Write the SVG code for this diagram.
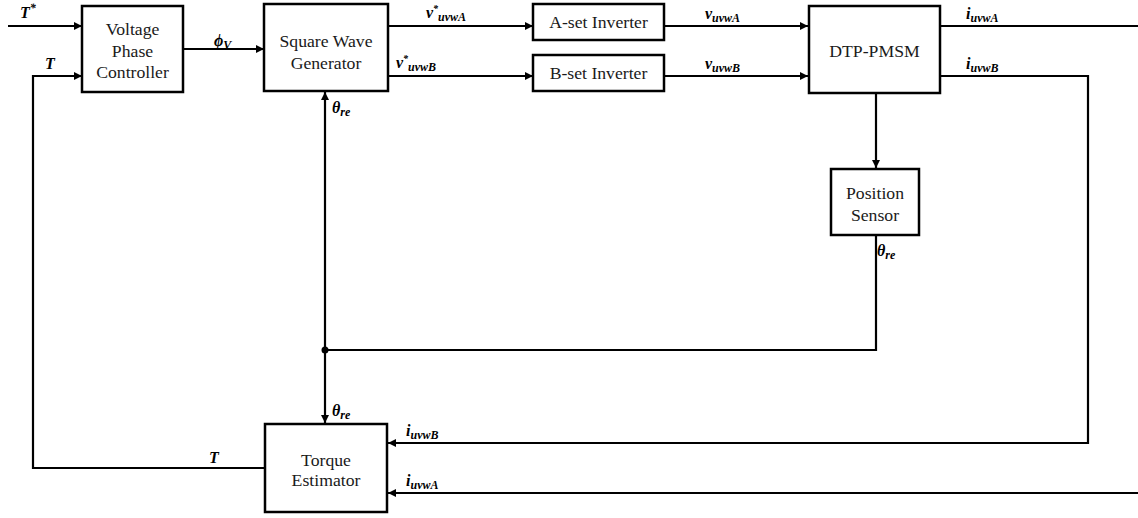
<svg xmlns="http://www.w3.org/2000/svg" width="1138" height="518" viewBox="0 0 1138 518">
  <style>
    .box { fill: #fff; stroke: #000; stroke-width: 2.5; }
    .name { font-family: "Liberation Serif", "Times New Roman", "DejaVu Serif", serif; font-size: 17.7px; font-weight: normal; fill: #1a1a1a; text-anchor: middle; }
    .wire { fill: none; stroke: #000; stroke-width: 2.2; }
    .arr { marker-end: url(#ah); }
    .m { font-family: "Liberation Serif", "Times New Roman", "DejaVu Serif", serif; font-weight: bold; font-style: italic; font-size: 16px; fill: #000; }
    .sub { font-size: 12px; }
    .star { font-size: 10px; }
  </style>
  <defs>
    <marker id="ah" viewBox="0 0 10 10" refX="10" refY="5" markerWidth="10" markerHeight="8" markerUnits="userSpaceOnUse" orient="auto">
      <path d="M0,0 L10,5 L0,10 z" fill="#000"/>
    </marker>
  </defs>

  <!-- connectors -->
  <g id="connectors">
    <path class="wire arr" d="M8,26 H82"/>
    <path class="wire arr" d="M264,468 H33 V76 H82"/>
    <path class="wire arr" d="M183,49 H264"/>
    <path class="wire arr" d="M388,26 H533"/>
    <path class="wire arr" d="M388,76 H533"/>
    <path class="wire arr" d="M664,26 H808"/>
    <path class="wire arr" d="M664,76 H808"/>
    <path class="wire" d="M940,26 H1138"/>
    <path class="wire arr" d="M940,76 H1088 V443 H388"/>
    <path class="wire arr" d="M1138,493 H388"/>
    <path class="wire arr" d="M876,93 V168"/>
    <path class="wire" d="M876,235 V350 H325"/>
    <path class="wire arr" d="M325,350 V92"/>
    <path class="wire arr" d="M325,350 V423"/>
    <circle cx="325" cy="350" r="3.5" fill="#000"/>

    <!-- signal labels -->
    <text class="m" x="20" y="18">T<tspan class="sub" dy="-6">*</tspan></text>
    <text class="m" x="45" y="69">T</text>
    <text class="m" x="214" y="46">ϕ<tspan class="sub" dy="3">V</tspan></text>
    <text class="m" x="426" y="18">v<tspan class="star" dy="-6">*</tspan><tspan class="sub" dy="9">uvwA</tspan></text>
    <text class="m" x="396" y="68">v<tspan class="star" dy="-6">*</tspan><tspan class="sub" dy="9">uvwB</tspan></text>
    <text class="m" x="705" y="19">v<tspan class="sub" dy="3">uvwA</tspan></text>
    <text class="m" x="705" y="69">v<tspan class="sub" dy="3">uvwB</tspan></text>
    <text class="m" x="966" y="19">i<tspan class="sub" dy="3">uvwA</tspan></text>
    <text class="m" x="966" y="69">i<tspan class="sub" dy="3">uvwB</tspan></text>
    <text class="m" x="332" y="113">θ<tspan class="sub" dy="3">re</tspan></text>
    <text class="m" x="877" y="256">θ<tspan class="sub" dy="3">re</tspan></text>
    <text class="m" x="332" y="416">θ<tspan class="sub" dy="3">re</tspan></text>
    <text class="m" x="406" y="436">i<tspan class="sub" dy="3">uvwB</tspan></text>
    <text class="m" x="406" y="486">i<tspan class="sub" dy="3">uvwA</tspan></text>
    <text class="m" x="209" y="463">T</text>
  </g>

  <g id="voltage-phase-controller">
    <rect class="box" x="82" y="6" width="101" height="86"/>
    <text class="name" x="132.5" y="35">Voltage</text>
    <text class="name" x="132.5" y="57">Phase</text>
    <text class="name" x="132.5" y="78">Controller</text>
  </g>

  <g id="square-wave-generator">
    <rect class="box" x="264" y="4" width="124" height="87"/>
    <text class="name" x="326" y="47">Square Wave</text>
    <text class="name" x="326" y="69">Generator</text>
  </g>

  <g id="a-set-inverter">
    <rect class="box" x="533" y="4" width="131" height="36"/>
    <text class="name" x="598.5" y="28">A-set Inverter</text>
  </g>

  <g id="b-set-inverter">
    <rect class="box" x="533" y="55" width="131" height="36"/>
    <text class="name" x="598.5" y="79">B-set Inverter</text>
  </g>

  <g id="dtp-pmsm">
    <rect class="box" x="809" y="6" width="131" height="87"/>
    <text class="name" x="874.5" y="57">DTP-PMSM</text>
  </g>

  <g id="position-sensor">
    <rect class="box" x="831" y="169" width="88" height="66"/>
    <text class="name" x="875" y="199">Position</text>
    <text class="name" x="875" y="221">Sensor</text>
  </g>

  <g id="torque-estimator">
    <rect class="box" x="265" y="424" width="122" height="88"/>
    <text class="name" x="326" y="466">Torque</text>
    <text class="name" x="326" y="486">Estimator</text>
  </g>
</svg>
